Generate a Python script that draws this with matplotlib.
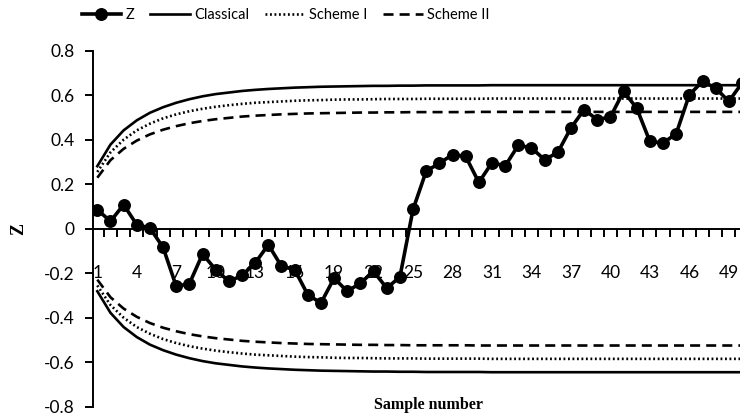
import matplotlib.pyplot as plt
from matplotlib.ticker import FixedLocator

# Z statistic for samples 1..50
samples = list(range(1, 51))
z_values = [
    0.086, 0.033, 0.108, 0.018, 0.003, -0.084, -0.259, -0.247, -0.114, -0.184,
    -0.237, -0.210, -0.154, -0.072, -0.169, -0.184, -0.297, -0.334, -0.222, -0.282,
    -0.244, -0.192, -0.267, -0.217, 0.087, 0.259, 0.294, 0.333, 0.325, 0.208,
    0.297, 0.282, 0.375, 0.363, 0.310, 0.343, 0.453, 0.535, 0.490, 0.502,
    0.617, 0.542, 0.392, 0.385, 0.427, 0.602, 0.662, 0.632, 0.572, 0.655,
]

# upper control limits (lower limits are the mirror image)
classical = [
    0.281, 0.378, 0.442, 0.487, 0.521, 0.546, 0.566, 0.582, 0.595, 0.605,
    0.612, 0.619, 0.624, 0.628, 0.631, 0.634, 0.636, 0.638, 0.639, 0.640,
    0.641, 0.642, 0.642, 0.643, 0.643, 0.644, 0.644, 0.644, 0.644, 0.644,
    0.645, 0.645, 0.645, 0.645, 0.645, 0.645, 0.645, 0.645, 0.645, 0.645,
    0.645, 0.645, 0.645, 0.645, 0.645, 0.645, 0.645, 0.645, 0.645, 0.645,
]
scheme_1 = [
    0.255, 0.343, 0.400, 0.442, 0.472, 0.496, 0.514, 0.528, 0.539, 0.548,
    0.555, 0.561, 0.566, 0.569, 0.572, 0.575, 0.577, 0.578, 0.580, 0.581,
    0.581, 0.582, 0.583, 0.583, 0.583, 0.584, 0.584, 0.584, 0.584, 0.584,
    0.585, 0.585, 0.585, 0.585, 0.585, 0.585, 0.585, 0.585, 0.585, 0.585,
    0.585, 0.585, 0.585, 0.585, 0.585, 0.585, 0.585, 0.585, 0.585, 0.585,
]
scheme_2 = [
    0.229, 0.308, 0.359, 0.396, 0.424, 0.445, 0.461, 0.474, 0.484, 0.492,
    0.498, 0.504, 0.508, 0.511, 0.514, 0.516, 0.518, 0.519, 0.520, 0.521,
    0.522, 0.522, 0.523, 0.523, 0.524, 0.524, 0.524, 0.524, 0.524, 0.525,
    0.525, 0.525, 0.525, 0.525, 0.525, 0.525, 0.525, 0.525, 0.525, 0.525,
    0.525, 0.525, 0.525, 0.525, 0.525, 0.525, 0.525, 0.525, 0.525, 0.525,
]

x_labels = list(range(1, 51, 3))
y_ticks = [-0.8, -0.6, -0.4, -0.2, 0, 0.2, 0.4, 0.6, 0.8]

plt.rcParams["font.family"] = ["Lato", "DejaVu Sans"]

fig = plt.figure(figsize=(7.4, 4.18), dpi=100)
ax = fig.add_axes([92.7 / 740, 1 - 406.7 / 418, 1 - 92.7 / 740, (406.7 - 50.7) / 418])

lw_lim = 1.9
for upper, style, label in [
    (classical, "-", "Classical"),
    (scheme_1, (0, (0.7, 1.0)), "Scheme I"),
    (scheme_2, (0, (3.8, 2.3)), "Scheme II"),
]:
    ax.plot(samples, upper, color="black", linestyle=style, linewidth=lw_lim,
            label=label, zorder=2)
    ax.plot(samples, [-v for v in upper], color="black", linestyle=style,
            linewidth=lw_lim, zorder=2)

ax.plot(samples, z_values, color="black", linewidth=2.6, marker="o",
        markersize=8.3, label="Z", zorder=3)

ax.set_xlim(0.65, 49.85)
ax.set_ylim(-0.8, 0.8)

ax.spines["top"].set_visible(False)
ax.spines["right"].set_visible(False)
ax.spines["bottom"].set_position(("data", 0))
ax.spines["left"].set_linewidth(1.4)
ax.spines["bottom"].set_linewidth(1.4)

ax.set_yticks(y_ticks)
ax.set_yticklabels(["-0.8", "-0.6", "-0.4", "-0.2", "0", "0.2", "0.4", "0.6", "0.8"])
ax.tick_params(axis="y", direction="out", length=6, width=1.4, pad=7, labelsize=12.5)

ax.set_xticks(x_labels)
ax.set_xticklabels([str(v) for v in x_labels])
ax.xaxis.set_minor_locator(FixedLocator([n + 0.5 for n in range(0, 51)]))
ax.tick_params(axis="x", which="major", length=0, pad=26, labelsize=12.5)
ax.tick_params(axis="x", which="minor", direction="out", length=6, width=1.4)

ax.set_ylabel("Z", family="Liberation Serif", fontweight="bold", fontsize=13)
ax.yaxis.set_label_coords(-65.7 / 647.3, 0.5)
fig.text(428 / 740, 1 - 405 / 418, "Sample number", family="Liberation Serif",
         fontweight="bold", fontsize=11.5, ha="center", va="center")

handles, labels = ax.get_legend_handles_labels()
order = [labels.index(k) for k in ["Z", "Classical", "Scheme I", "Scheme II"]]
fig.legend([handles[i] for i in order], [labels[i] for i in order],
           loc="center", bbox_to_anchor=(285.5 / 740, 1 - 15 / 418), ncol=4,
           frameon=False, fontsize=10.5, handlelength=2.7, handletextpad=0.3,
           columnspacing=1.1, borderaxespad=0, borderpad=0)

fig.savefig("out.png", dpi=100)
plt.close(fig)
